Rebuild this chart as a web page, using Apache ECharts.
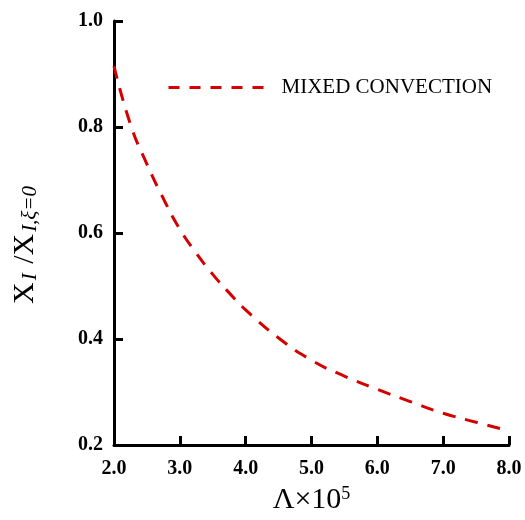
<!DOCTYPE html>
<html>
<head>
<meta charset="utf-8">
<script src="https://cdn.jsdelivr.net/npm/echarts@6/dist/echarts.min.js"></script>
<style>
html,body{margin:0;padding:0;background:#fff;}
#chart{width:525px;height:520px;}
</style>
</head>
<body>
<div id="chart"></div>
<script>
const seriesName = 'MIXED CONVECTION';
const lambdaValues = [2.0, 2.25, 2.5, 2.75, 3.0, 3.25, 3.5, 3.75, 4.0, 4.5, 5.0, 5.5, 6.0, 6.5, 7.0, 7.5, 8.0];
const ratioValues  = [0.915, 0.805, 0.73, 0.665, 0.607, 0.562, 0.522, 0.487, 0.455, 0.402, 0.360, 0.330, 0.305, 0.282, 0.260, 0.243, 0.227];
const xTicks = [2.0, 3.0, 4.0, 5.0, 6.0, 7.0, 8.0];
const yTicks = [0.2, 0.4, 0.6, 0.8, 1.0];

const serif = '"Liberation Serif", "Times New Roman", serif';
const red = '#d40000';
const curveDash = [13, 10];
const legendDash = [11, 10];

const chart = echarts.init(document.getElementById('chart'), null, {renderer: 'canvas'});
const axisCommon = {
  type: 'value',
  axisLine: {show: true, lineStyle: {color: '#000', width: 3}},
  axisTick: {show: true, inside: true, length: 9, lineStyle: {color: '#000', width: 3}},
  splitLine: {show: false},
  axisLabel: {color: '#000', fontFamily: serif, fontWeight: 'bold', fontSize: 20, formatter: v => v.toFixed(1)}
};
chart.setOption({
  animation: false,
  backgroundColor: '#fff',
  grid: {left: 114, right: 16, top: 21, bottom: 68},
  legend: {
    left: 162, top: 72,
    itemWidth: 96, itemHeight: 20,
    data: [seriesName],
    itemStyle: {opacity: 0},
    lineStyle: {color: red, width: 3, type: legendDash},
    textStyle: {fontFamily: serif, fontSize: 21, color: '#000', padding: [0, 0, 0, 12]}
  },
  xAxis: Object.assign({}, axisCommon, {
    min: xTicks[0], max: xTicks[xTicks.length - 1], interval: 1,
    axisLabel: Object.assign({}, axisCommon.axisLabel, {margin: 14}),
    name: '{L|Λ×10}{sup|5}',
    nameLocation: 'middle', nameGap: 40,
    nameTextStyle: {
      color: '#000',
      rich: {
        L: {fontFamily: serif, fontSize: 30, color: '#000', lineHeight: 30},
        sup: {fontFamily: serif, fontSize: 18, color: '#000', verticalAlign: 'top', lineHeight: 18}
      }
    }
  }),
  yAxis: Object.assign({}, axisCommon, {
    min: yTicks[0], max: yTicks[yTicks.length - 1], interval: 0.2,
    axisLabel: Object.assign({}, axisCommon.axisLabel, {margin: 11}),
    name: '{X|X}{sub|I}{X| /X}{sub|I,ξ=0}',
    nameLocation: 'middle', nameGap: 73, nameRotate: 90,
    nameTextStyle: {
      color: '#000',
      padding: [0, 22, 0, 0],
      rich: {
        X: {fontFamily: serif, fontSize: 30, color: '#000', lineHeight: 32},
        sub: {fontFamily: serif, fontSize: 21, fontStyle: 'italic', color: '#000', verticalAlign: 'bottom', lineHeight: 12, padding: [0, 2, 0, 2]}
      }
    }
  }),
  series: [{
    name: seriesName,
    type: 'line',
    data: lambdaValues.map((x, i) => [x, ratioValues[i]]),
    smooth: true,
    symbol: 'none',
    showSymbol: false,
    lineStyle: {color: red, width: 3, type: curveDash},
    itemStyle: {color: red}
  }]
});
</script>
</body>
</html>
